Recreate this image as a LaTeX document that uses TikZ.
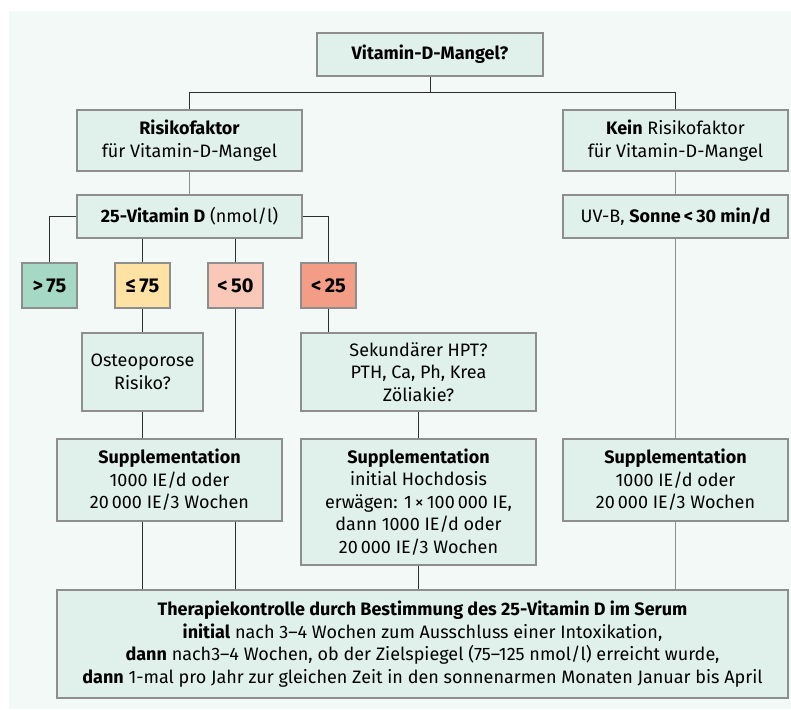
\documentclass[tikz,border=0pt]{standalone}
\usepackage{fontspec}
\setmainfont{Fira Sans}
\definecolor{panel}{HTML}{F2F9F7}
\definecolor{boxfill}{HTML}{E0F1EC}
\definecolor{boxline}{HTML}{8E8E8E}
\definecolor{levelhigh}{HTML}{A6D8C6}
\definecolor{levelmid}{HTML}{FDE2A4}
\definecolor{levellow}{HTML}{F9C8B8}
\definecolor{levelcrit}{HTML}{F39D87}
\definecolor{linedark}{HTML}{2E2E2E}
\tikzset{
  infobox/.style={draw=boxline,line width=1.2pt,fill=boxfill,align=center,inner sep=2pt},
  levelbox/.style={infobox,minimum width=55pt,minimum height=45pt,font=\fontsize{20}{24}\selectfont\bfseries},
  link/.style={draw=linedark,line width=0.9pt},
  graylink/.style={draw=boxline,line width=1.4pt}
}
\begin{document}
\begin{tikzpicture}[x=1pt,y=-1pt,every node/.style={font=\fontsize{18}{22.5}\selectfont}]
          \useasboundingbox (0,0) rectangle (791,709);
          \fill[panel] (9,11) rectangle (791,709);

          % Nodes
          \node[infobox,minimum width=226pt,minimum height=43pt] (top) at (430,54.5) {\textbf{Vitamin-D-Mangel?}};
          \node[infobox,minimum width=225pt,minimum height=61pt] (risk) at (189.5,140.5) {\textbf{Risikofaktor}\\für Vitamin-D-Mangel};
          \node[infobox,minimum width=225pt,minimum height=61pt] (kein) at (675.5,140.5) {\textbf{Kein} Risikofaktor\\für Vitamin-D-Mangel};
          \node[infobox,minimum width=225pt,minimum height=43pt] (vitd) at (189.5,216.5) {\textbf{25-Vitamin D} (nmol/l)};
          \node[infobox,minimum width=225pt,minimum height=43pt] (uvb) at (675.5,216.5) {UV-B, \textbf{Sonne\,<\,30 min/d}};

          % 25-Vitamin D levels
          \node[levelbox,fill=levelhigh] (g75) at (49.5,285.5) {>\,75};
          \node[levelbox,fill=levelmid] (le75) at (142.5,285.5) {≤\,75};
          \node[levelbox,fill=levellow] (l50) at (235.5,285.5) {<\,50};
          \node[levelbox,fill=levelcrit] (l25) at (328.5,285.5) {<\,25};

          \node[infobox,minimum width=121pt,minimum height=78pt] (osteo) at (142.5,372) {Osteoporose\\Risiko?};
          \node[infobox,minimum width=235pt,minimum height=78pt] (hpt) at (418.5,372) {Sekundärer HPT?\\PTH, Ca, Ph, Krea\\Zöliakie?};

          % Supplementation
          \node[infobox,minimum width=225pt,minimum height=82pt] (suppA) at (169.5,480) {\textbf{Supplementation}\\1000 IE/d oder\\20\,000 IE/3 Wochen};
          \node[infobox,minimum width=235pt,minimum height=126pt] (suppB) at (418.5,502) {\textbf{Supplementation}\\initial Hochdosis\\erwägen: 1\,×\,100\,000 IE,\\dann 1000 IE/d oder\\20\,000 IE/3 Wochen};
          \node[infobox,minimum width=225pt,minimum height=82pt] (suppC) at (675.5,480) {\textbf{Supplementation}\\1000 IE/d oder\\20\,000 IE/3 Wochen};

          \node[infobox,minimum width=731pt,minimum height=108pt] (ctrl) at (422.5,644) {\textbf{Therapiekontrolle durch Bestimmung des 25-Vitamin D im Serum}\\
            \textbf{initial} nach 3–4 Wochen zum Ausschluss einer Intoxikation,\\
            \textbf{dann} nach3–4 Wochen, ob der Zielspiegel (75–125 nmol/l) erreicht wurde,\\
            \textbf{dann} 1-mal pro Jahr zur gleichen Zeit in den sonnenarmen Monaten Januar bis April};

          % Connectors
          \coordinate (split) at (430,92);
          \draw[link] (top.south) -- (split);
          \draw[link] (risk.north) -- (risk.north |- split) -- (kein.north |- split) -- (kein.north);
          \draw[graylink] (risk) -- (vitd);
          \draw[graylink] (kein) -- (uvb);

          \draw[link] (vitd.west) -| (g75.north);
          \draw[link] (vitd.east) -| (l25.north);
          \draw[link] (le75.north |- vitd.south) -- (le75.north);
          \draw[link] (l50.north |- vitd.south) -- (l50.north);

          \draw[link] (le75) -- (osteo);
          \draw[link] (l25.south) -- (l25.south |- hpt.north);
          \draw[link] (osteo.south) -- (osteo.south |- suppA.north);
          \draw[link] (l50.south) -- (l50.south |- suppA.north);
          \draw[link] (hpt) -- (suppB);
          \draw[graylink] (uvb) -- (suppC);

          \draw[link] (le75 |- suppA.south) -- (le75 |- ctrl.north);
          \draw[link] (l50 |- suppA.south) -- (l50 |- ctrl.north);
          \draw[link] (suppB.south) -- (suppB.south |- ctrl.north);
          \draw[graylink] (suppC) -- (suppC |- ctrl.north);

        \end{tikzpicture}
\end{document}
